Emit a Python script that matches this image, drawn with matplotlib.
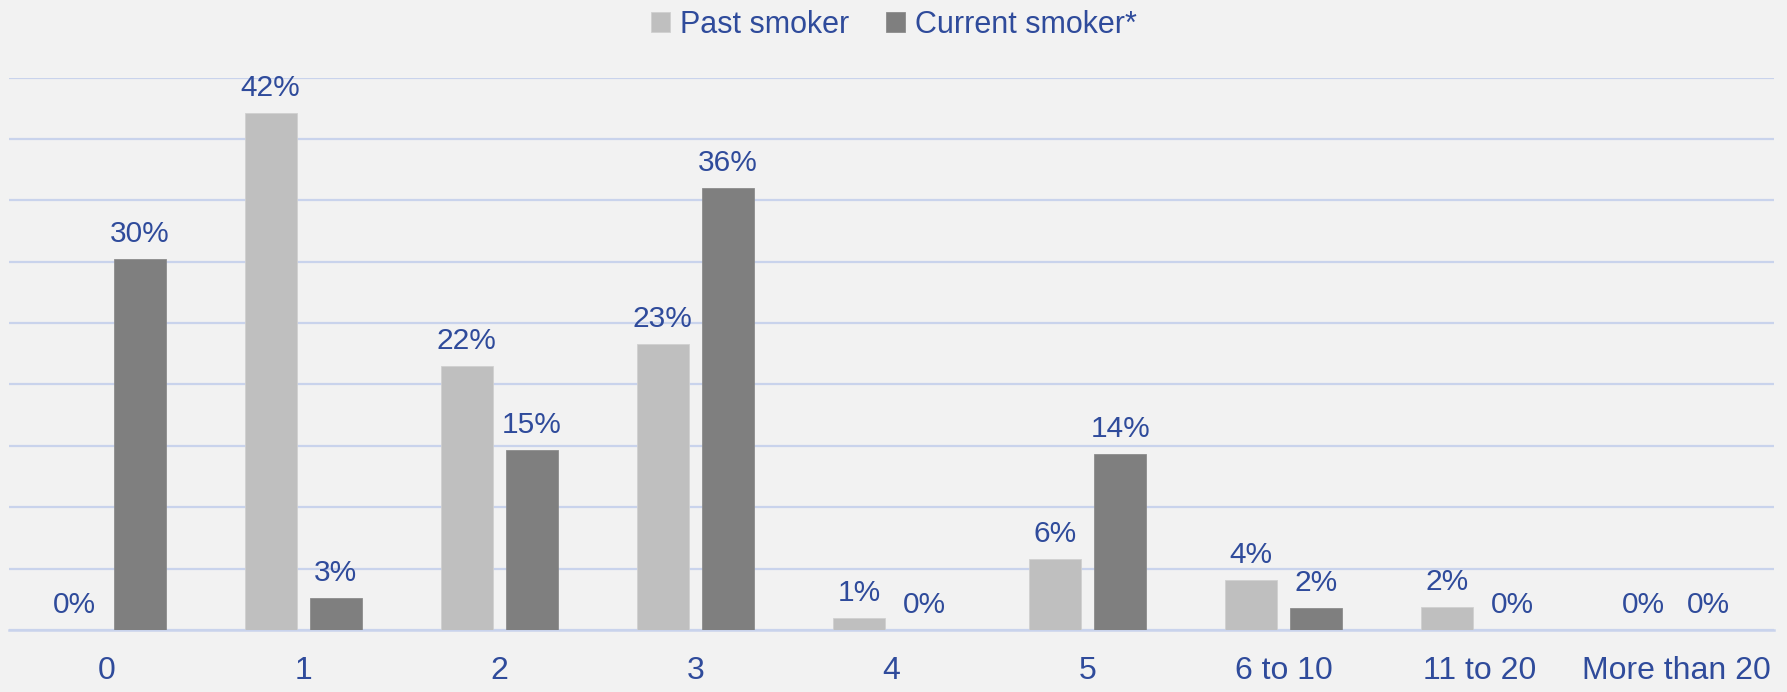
import numpy as np
import matplotlib
matplotlib.use("Agg")
import matplotlib.pyplot as plt

# data (percent of respondents)
categories = ["0", "1", "2", "3", "4", "5", "6 to 10", "11 to 20", "More than 20"]
past_smoker = [0, 42.1, 21.5, 23.3, 1.0, 5.8, 4.1, 1.9, 0]
current_smoker = [30.2, 2.6, 14.7, 36.0, 0, 14.3, 1.8, 0, 0]
series_names = ["Past smoker", "Current smoker*"]

BG = "#f2f2f2"
TXT = "#2f4b9b"
GRID = "#c9d3ec"
LIGHT = "#bfbfbf"
DARK = "#7f7f7f"

plt.rcParams["font.family"] = ["Liberation Sans", "DejaVu Sans"]

fig = plt.figure(figsize=(17.87, 6.92), dpi=100, facecolor=BG)
ax = fig.add_axes([9 / 1787, 1 - 630 / 692, 1765 / 1787, (630 - 77.5) / 692])
ax.set_facecolor(BG)

x = np.arange(len(categories))
w = 0.265
off = 0.166
b1 = ax.bar(x - off, past_smoker, w, color=LIGHT, edgecolor="#d0d0d0", linewidth=0.6,
            label=series_names[0], zorder=3)
b2 = ax.bar(x + off, current_smoker, w, color=DARK, edgecolor="#8c8c8c", linewidth=0.6,
            label=series_names[1], zorder=3)

for bars, vals in ((b1, past_smoker), (b2, current_smoker)):
    for r, v in zip(bars, vals):
        ax.annotate(f"{round(v):.0f}%", (r.get_x() + r.get_width() / 2, v),
                    xytext=(0, 11), textcoords="offset pixels",
                    ha="center", va="bottom", fontsize=21.5, color=TXT)

ax.set_xlim(-0.5, len(categories) - 0.5)
ax.set_ylim(0, 45)
ax.set_yticks(np.arange(0, 46, 5))
ax.set_yticklabels([])
ax.tick_params(axis="y", length=0)
ax.yaxis.grid(True, color=GRID, linewidth=1.6, zorder=0)
ax.set_axisbelow(True)

ax.set_xticks(x)
ax.set_xticklabels(categories, fontsize=23, color=TXT)
ax.tick_params(axis="x", length=0, pad=19)

for s in ["top", "right", "left"]:
    ax.spines[s].set_visible(False)
ax.spines["bottom"].set_color(GRID)
ax.spines["bottom"].set_linewidth(1.8)

leg = fig.legend(loc="center", bbox_to_anchor=(0.5, 1 - 25 / 692), ncol=2,
                 frameon=False, fontsize=22, handlelength=0.65, handleheight=0.65,
                 handletextpad=0.3, columnspacing=1.2)
for t in leg.get_texts():
    t.set_color(TXT)

fig.savefig("out.png", dpi=100, facecolor=BG)
